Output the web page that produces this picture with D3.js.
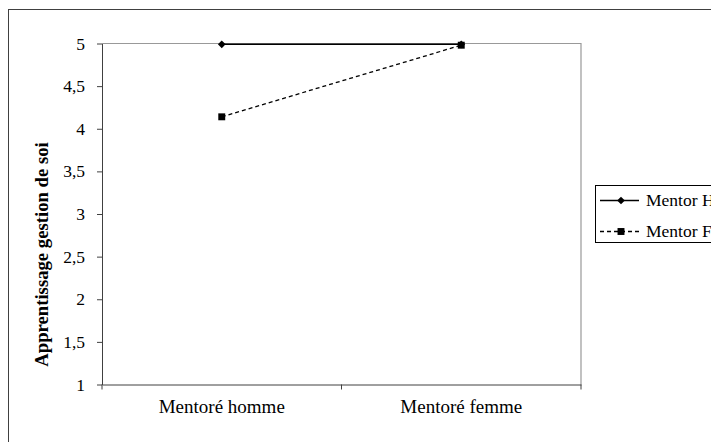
<!DOCTYPE html>
<html><head><meta charset="utf-8">
<script src="https://cdn.jsdelivr.net/npm/d3@7"></script>
<style>body{margin:0;background:#fff}svg{display:block}</style>
</head><body>
<script>
const categories = ["Mentoré homme", "Mentoré femme"];
const seriesNames = ["Mentor H", "Mentor F"];
const mentorH = [4.99, 4.99];
const mentorF = [4.14, 4.98];
const yTicks = [1, 1.5, 2, 2.5, 3, 3.5, 4, 4.5, 5];
const yTitle = "Apprentissage gestion de soi";

const W = 711, H = 442;
const svg = d3.select("body").append("svg").attr("width", W).attr("height", H);
const FF = '"Liberation Serif", "Times New Roman", serif';

svg.append("rect").attr("x", 8.5).attr("y", 9.5).attr("width", 760).attr("height", 500)
  .attr("fill", "none").attr("stroke", "#404040").attr("stroke-width", 1);

const L = 102, R = 581, T = 43.5, B = 384.5;
const x = d3.scaleBand().domain(categories).range([L, R]);
const y = d3.scaleLinear().domain([1, 5]).range([B, T]);
const fmt = d => String(d).replace(".", ",");

svg.append("path").attr("d", `M${L},${T}H${R}V${B}`).attr("fill", "none").attr("stroke", "#999").attr("stroke-width", 1.2);

const ya = svg.append("g").attr("transform", `translate(${L},0)`)
  .call(d3.axisLeft(y).tickValues(yTicks).tickFormat(fmt).tickSize(5).tickSizeOuter(0));
ya.attr("font-family", FF);
ya.select(".domain").attr("stroke", "#404040");
ya.selectAll(".tick line").attr("stroke", "#404040");
ya.selectAll("text").style("font-family", FF).style("font-size", "17.5px").attr("fill", "#000").attr("x", -17);

const xa = svg.append("g").attr("transform", `translate(0,${B})`)
  .call(d3.axisBottom(x).tickSize(0).tickSizeOuter(0));
xa.attr("font-family", FF);
xa.select(".domain").attr("stroke", "#404040");
xa.selectAll("text").style("font-family", FF).style("font-size", "19px").attr("fill", "#000").attr("dy", null).attr("y", 28.5);
const bounds = [x(categories[0]), x(categories[1]), x(categories[1]) + x.bandwidth()];
svg.append("g").selectAll("line").data(bounds).join("line")
  .attr("x1", d => d).attr("x2", d => d).attr("y1", B).attr("y2", B + 5)
  .attr("stroke", "#404040");

svg.append("text").attr("transform", `translate(48,254.5) rotate(-90)`)
  .attr("text-anchor", "middle").style("font-family", FF).style("font-size", "18.7px")
  .style("font-weight", "bold").text(yTitle);

const cx = c => x(c) + x.bandwidth() / 2;
const line = d3.line().x((d, i) => cx(categories[i])).y(d => y(d));

svg.append("path").datum(mentorF).attr("d", line).attr("fill", "none")
  .attr("stroke", "#000").attr("stroke-width", 1.3).attr("stroke-dasharray", "4,3");
svg.append("path").datum(mentorH).attr("d", line).attr("fill", "none")
  .attr("stroke", "#000").attr("stroke-width", 1.5);

const diamondType = { draw(ctx, size) { const r = Math.sqrt(size / 2);
  ctx.moveTo(0, -r); ctx.lineTo(r, 0); ctx.lineTo(0, r); ctx.lineTo(-r, 0); ctx.closePath(); } };
const diamond = d3.symbol().type(diamondType).size(30);
const square = d3.symbol().type(d3.symbolSquare).size(48);
svg.append("g").selectAll("path").data(mentorH).join("path")
  .attr("transform", (d, i) => `translate(${cx(categories[i])},${y(d)})`).attr("d", diamond).attr("fill", "#000");
svg.append("g").selectAll("path").data(mentorF).join("path")
  .attr("transform", (d, i) => `translate(${cx(categories[i])},${y(d)})`).attr("d", square).attr("fill", "#000");

const lg = svg.append("g");
lg.append("rect").attr("x", 595.5).attr("y", 185.5).attr("width", 140).attr("height", 57)
  .attr("fill", "#fff").attr("stroke", "#000");
const legY = [200.5, 231.5];
const dashes = [null, "4,3"];
const syms = [diamond, square];
seriesNames.forEach((s, i) => {
  lg.append("line").attr("x1", 600).attr("x2", 639).attr("y1", legY[i]).attr("y2", legY[i])
    .attr("stroke", "#000").attr("stroke-width", 1.3).attr("stroke-dasharray", dashes[i]);
  lg.append("path").attr("transform", `translate(621,${legY[i]})`).attr("d", syms[i]).attr("fill", "#000");
  lg.append("text").attr("x", 646).attr("y", legY[i] + 5.5).style("font-family", FF).style("font-size", "17.5px").text(s);
});
</script>
</body></html>
